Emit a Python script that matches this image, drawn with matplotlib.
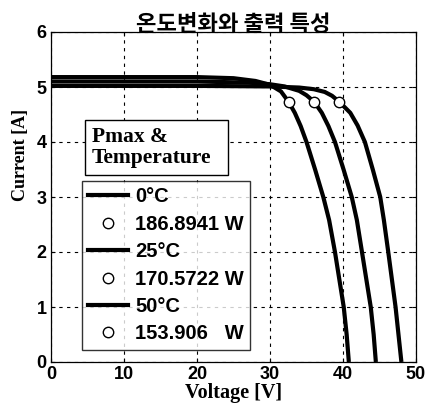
import matplotlib
matplotlib.use("Agg")
import matplotlib.pyplot as plt
from matplotlib.lines import Line2D
from matplotlib.patches import Rectangle

# I-V curves (voltage [V], current [A])
v_0c = [0, 10, 20, 30, 34, 36, 37.5, 38.5, 39.5, 41.0, 42.0, 43.0, 44.1, 45.1, 45.6, 46.2, 46.7, 47.2, 47.6, 48.0]
i_0c = [5.02, 5.02, 5.02, 5.01, 4.99, 4.96, 4.91, 4.84, 4.73, 4.53, 4.30, 4.00, 3.49, 3.00, 2.58, 2.00, 1.50, 1.00, 0.50, 0.0]

v_25c = [0, 10, 20, 27, 30, 32, 34, 35, 36.06, 37.1, 38.0, 38.9, 40.1, 41.2, 41.9, 42.6, 43.2, 43.8, 44.2, 44.5]
i_25c = [5.10, 5.10, 5.10, 5.08, 5.05, 5.01, 4.93, 4.85, 4.73, 4.53, 4.29, 4.00, 3.49, 3.00, 2.58, 2.00, 1.50, 1.00, 0.50, 0.0]

v_50c = [0, 10, 20, 25, 28, 30, 31.5, 32.55, 33.4, 34.2, 35.0, 36.2, 37.3, 38.1, 38.9, 39.5, 40.1, 40.5, 40.8]
i_50c = [5.18, 5.18, 5.18, 5.16, 5.11, 5.04, 4.92, 4.73, 4.53, 4.29, 4.00, 3.49, 3.00, 2.58, 2.00, 1.50, 1.00, 0.50, 0.0]

# maximum power points
pmax_v = [39.5, 36.06, 32.55]
pmax_i = [4.73, 4.73, 4.73]

temp_labels = ["0°C", "25°C", "50°C"]
power_labels = ["186.8941 W", "170.5722 W", "153.906   W"]

x_ticks = [0, 10, 20, 30, 40, 50]
y_ticks = [0, 1, 2, 3, 4, 5, 6]

SANS = "Liberation Sans"
SERIF = "Liberation Serif"

fig = plt.figure(figsize=(4.29, 4.08), dpi=100)
ax = fig.add_axes([51 / 429, 46 / 408, 365 / 429, 330 / 408])

for v, i in [(v_0c, i_0c), (v_25c, i_25c), (v_50c, i_50c)]:
    ax.plot(v, i, color="black", lw=3.0, solid_capstyle="butt", zorder=3)
ax.plot(pmax_v, pmax_i, ls="none", marker="o", ms=7.5, mfc="white", mec="black", mew=1.0, zorder=4)

ax.set_xlim(0, 50)
ax.set_ylim(0, 6)
ax.set_xticks(x_ticks)
ax.set_yticks(y_ticks)
ax.tick_params(direction="in", length=3, width=0.8, pad=3, top=True, right=True)
for lab in ax.get_xticklabels() + ax.get_yticklabels():
    lab.set_fontfamily(SANS)
    lab.set_fontweight("bold")
    lab.set_fontsize(13)
ax.grid(True, color="black", lw=0.8, ls=(0, (3, 4)))
for s in ax.spines.values():
    s.set_linewidth(0.9)

ax.set_xlabel("Voltage [V]", family=SERIF, weight="bold", fontsize=14.5, labelpad=0)
ax.set_ylabel("Current [A]", family=SERIF, weight="bold", fontsize=13)
ax.yaxis.set_label_coords(-0.06, 0.627)
ax.set_title("온도변화와 출력 특성", family=["Noto Sans CJK KR", "DejaVu Sans"], weight="bold",
             fontsize=16, pad=1)

# legend title box
ax.add_patch(Rectangle((0.093, 0.567), 0.392, 0.166, transform=ax.transAxes,
                       facecolor="white", edgecolor="black", lw=1.0, zorder=5))
ax.text(0.112, 0.650, "Pmax &\nTemperature", transform=ax.transAxes, family=SERIF,
        weight="bold", fontsize=15.5, ha="left", va="center", linespacing=1.05, zorder=6)

handles = []
labels = []
for t, p in zip(temp_labels, power_labels):
    handles.append(Line2D([], [], color="black", lw=3.0))
    labels.append(t)
    handles.append(Line2D([], [], ls="none", marker="o", ms=7.5, mfc="white", mec="black", mew=1.0))
    labels.append(p)

leg = ax.legend(handles, labels, loc="upper left", bbox_to_anchor=(0.085, 0.548),
                borderaxespad=0, frameon=True, fancybox=False, edgecolor="black",
                prop={"family": SANS, "weight": "bold", "size": 14.5},
                handlelength=2.0, handletextpad=0.35, labelspacing=0.42, borderpad=0.3)
leg.get_frame().set_linewidth(1.0)
leg.set_zorder(6)

fig.savefig("out.png", dpi=100)
